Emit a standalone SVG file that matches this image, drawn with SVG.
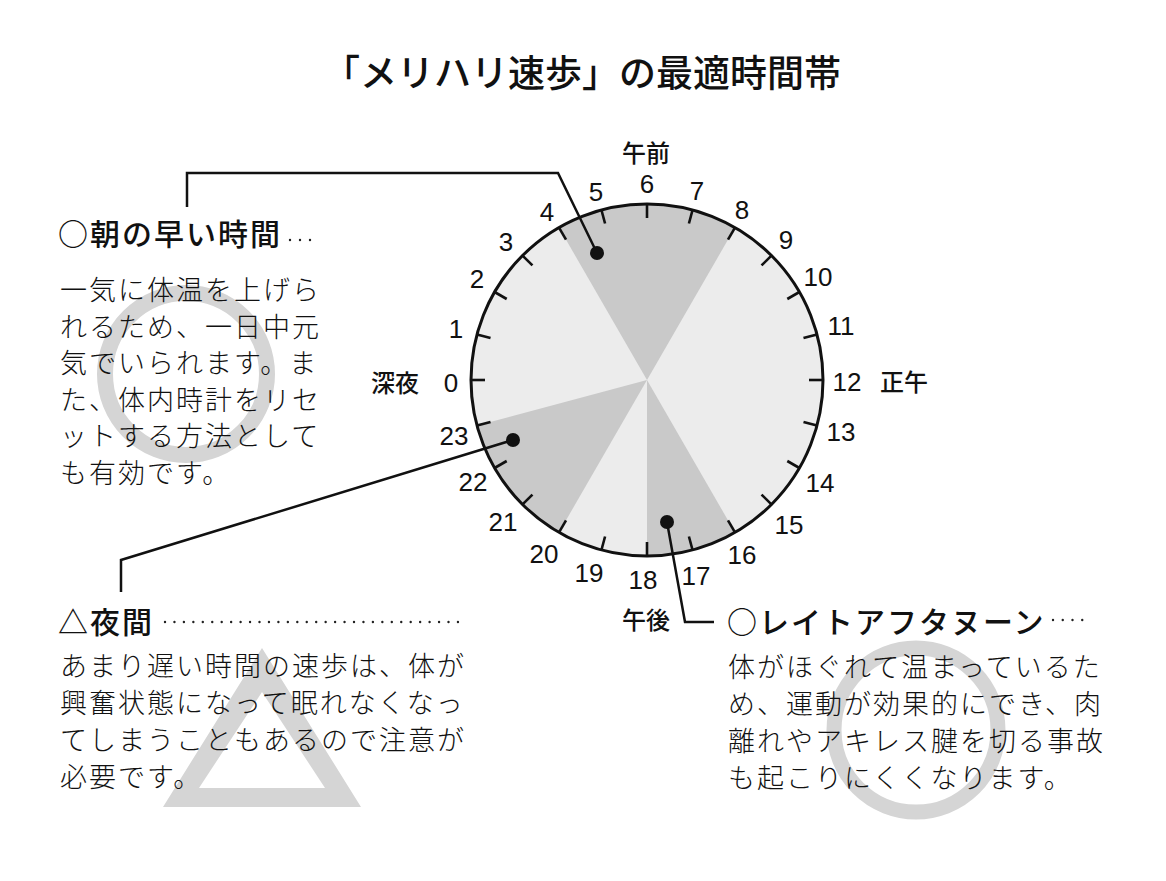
<svg xmlns="http://www.w3.org/2000/svg" xmlns:xlink="http://www.w3.org/1999/xlink" width="1166" height="881" viewBox="0 0 1166 881">
<defs>
<style>
.title{font-family:"Noto Sans CJK JP","Noto Sans",sans-serif;font-size:37px;font-weight:500;letter-spacing:0px;fill:#111}
.head{font-family:"Noto Sans CJK JP","Noto Sans",sans-serif;font-size:30px;font-weight:500;letter-spacing:2px;fill:#111}
.body{font-family:"Noto Sans CJK JP","Noto Sans",sans-serif;font-size:27px;font-weight:300;letter-spacing:2px;fill:#111}
.num{font-family:"Liberation Sans","Noto Sans",sans-serif;font-size:26px;fill:#111;text-anchor:middle}
.lab{font-family:"Noto Sans CJK JP","Noto Sans",sans-serif;font-size:24px;font-weight:500;fill:#111;text-anchor:middle}
.dots{stroke:#222;stroke-width:2.4;stroke-linecap:round;fill:none}
.lead{stroke:#111;stroke-width:2.5;fill:none}
.wm{fill:none;stroke:#d5d5d5}
.dark{fill:#c9c9c9}
.tick{stroke:#111;stroke-width:2.6}
</style>
<line id="tick" class="tick" x1="471" y1="380" x2="485" y2="380"/>
</defs>
<rect width="1166" height="881" fill="#fff"/>

<g id="title">
<text class="title" x="582" y="87" text-anchor="middle">「メリハリ速歩」の最適時間帯</text>
</g>

<g id="watermarks">
<circle class="wm" cx="186" cy="374" r="81" stroke-width="16"/>
<path d="M262 648 L163 807 L361 807 Z M262 692 L199 788 L325 788 Z" fill="#d5d5d5" fill-rule="evenodd"/>
<circle class="wm" cx="916" cy="730" r="82" stroke-width="15"/>
</g>

<g id="clock">
<circle cx="647" cy="380" r="176" fill="#ececec"/>
<path class="dark" d="M647 380 L559 227.58 A176 176 0 0 1 735 227.58 Z"/>
<path class="dark" d="M647 380 L735 532.42 A176 176 0 0 1 647 556 Z"/>
<path class="dark" d="M647 380 L559 532.42 A176 176 0 0 1 477 425.55 Z"/>
<circle cx="647" cy="380" r="176" fill="none" stroke="#111" stroke-width="3"/>
<use xlink:href="#tick" transform="rotate(0 647 380)"/>
<use xlink:href="#tick" transform="rotate(15 647 380)"/>
<use xlink:href="#tick" transform="rotate(30 647 380)"/>
<use xlink:href="#tick" transform="rotate(45 647 380)"/>
<use xlink:href="#tick" transform="rotate(60 647 380)"/>
<use xlink:href="#tick" transform="rotate(75 647 380)"/>
<use xlink:href="#tick" transform="rotate(90 647 380)"/>
<use xlink:href="#tick" transform="rotate(105 647 380)"/>
<use xlink:href="#tick" transform="rotate(120 647 380)"/>
<use xlink:href="#tick" transform="rotate(135 647 380)"/>
<use xlink:href="#tick" transform="rotate(150 647 380)"/>
<use xlink:href="#tick" transform="rotate(165 647 380)"/>
<use xlink:href="#tick" transform="rotate(180 647 380)"/>
<use xlink:href="#tick" transform="rotate(195 647 380)"/>
<use xlink:href="#tick" transform="rotate(210 647 380)"/>
<use xlink:href="#tick" transform="rotate(225 647 380)"/>
<use xlink:href="#tick" transform="rotate(240 647 380)"/>
<use xlink:href="#tick" transform="rotate(255 647 380)"/>
<use xlink:href="#tick" transform="rotate(270 647 380)"/>
<use xlink:href="#tick" transform="rotate(285 647 380)"/>
<use xlink:href="#tick" transform="rotate(300 647 380)"/>
<use xlink:href="#tick" transform="rotate(315 647 380)"/>
<use xlink:href="#tick" transform="rotate(330 647 380)"/>
<use xlink:href="#tick" transform="rotate(345 647 380)"/>
</g>

<g id="hour-labels">
<text class="num" x="451" y="392">0</text>
<text class="num" x="456" y="338">1</text>
<text class="num" x="477" y="288">2</text>
<text class="num" x="506" y="251">3</text>
<text class="num" x="547" y="221">4</text>
<text class="num" x="596" y="201">5</text>
<text class="num" x="647" y="193">6</text>
<text class="num" x="697" y="200">7</text>
<text class="num" x="742" y="219">8</text>
<text class="num" x="786" y="249">9</text>
<text class="num" x="818" y="286">10</text>
<text class="num" x="841" y="335">11</text>
<text class="num" x="847" y="391">12</text>
<text class="num" x="841" y="441">13</text>
<text class="num" x="820" y="492">14</text>
<text class="num" x="789" y="534">15</text>
<text class="num" x="742" y="564">16</text>
<text class="num" x="696" y="585">17</text>
<text class="num" x="643" y="589">18</text>
<text class="num" x="589" y="582">19</text>
<text class="num" x="544" y="563">20</text>
<text class="num" x="503" y="531">21</text>
<text class="num" x="473" y="491">22</text>
<text class="num" x="454" y="445">23</text>
</g>

<g id="time-labels">
<text class="lab" x="646" y="162">午前</text>
<text class="lab" x="395" y="392">深夜</text>
<text class="lab" x="904" y="391">正午</text>
<text class="lab" x="646" y="629">午後</text>
</g>

<g id="connectors">
<polyline class="lead" points="187,207 187,173 558,173 597,253"/>
<circle cx="597" cy="253" r="7" fill="#111"/>
<polyline class="lead" points="121,592 121,560 513,440"/>
<circle cx="513" cy="440" r="7" fill="#111"/>
<polyline class="lead" points="667,522 685,622 714,622"/>
<circle cx="667" cy="522" r="7" fill="#111"/>
</g>

<g id="morning">
<text class="head" x="58" y="245">○朝の早い時間</text>
<line class="dots" x1="290" y1="240" x2="320" y2="240" stroke-dasharray="0 10"/>
<text class="body" x="60" y="300">一気に体温を上げら</text>
<text class="body" x="60" y="337">れるため、一日中元</text>
<text class="body" x="60" y="373">気でいられます。ま</text>
<text class="body" x="60" y="410">た、体内時計をリセ</text>
<text class="body" x="60" y="446">ットする方法として</text>
<text class="body" x="60" y="483">も有効です。</text>
</g>

<g id="night">
<text class="head" x="58" y="633">△夜間</text>
<line class="dots" x1="165" y1="622" x2="458" y2="622" stroke-dasharray="0 9.45"/>
<text class="body" x="60" y="676">あまり遅い時間の速歩は、体が</text>
<text class="body" x="60" y="713">興奮状態になって眠れなくなっ</text>
<text class="body" x="60" y="750">てしまうこともあるので注意が</text>
<text class="body" x="60" y="787">必要です。</text>
</g>

<g id="late-afternoon">
<text class="head" x="727" y="633">○レイトアフタヌーン</text>
<line class="dots" x1="1053" y1="620" x2="1092" y2="620" stroke-dasharray="0 9.75"/>
<text class="body" x="728" y="677">体がほぐれて温まっているた</text>
<text class="body" x="728" y="714">め、運動が効果的にでき、肉</text>
<text class="body" x="728" y="751">離れやアキレス腱を切る事故</text>
<text class="body" x="728" y="788">も起こりにくくなります。</text>
</g>
</svg>
